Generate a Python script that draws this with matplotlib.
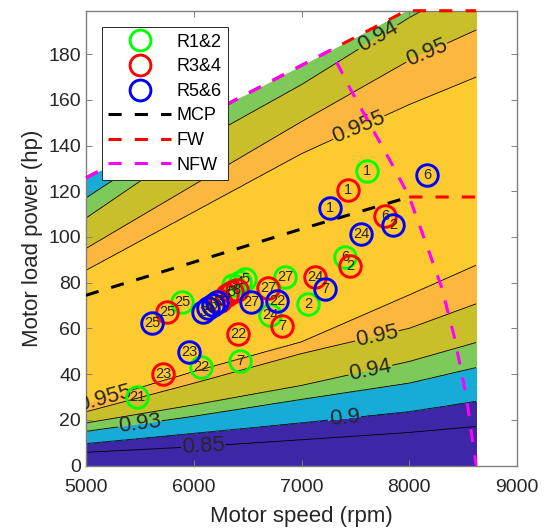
import matplotlib.pyplot as plt
import numpy as np
from matplotlib.lines import Line2D

plt.rcParams['font.family'] = ['Liberation Sans', 'DejaVu Sans']

# Efficiency map: load power (hp) at which each contour level is crossed,
# listed at a few motor speeds (rpm)
map_speed = [5000, 6000, 7000, 8000, 8620]
eff_levels = [0.85, 0.9, 0.93, 0.94, 0.95, 0.955]
# efficiency rising with load
p_085 = [5.8, 8.2, 11.3, 14.5, 17.1]
p_090 = [9.5, 14.0, 18.6, 23.5, 28.0]
p_093 = [14.9, 21.5, 28.9, 36.0, 42.8]
p_094 = [18.6, 26.5, 35.0, 45.5, 53.8]
p_095 = [23.5, 36.0, 49.0, 60.0, 70.7]
p_0955 = [27.0, 41.0, 54.0, 74.6, 87.6]
# efficiency falling again at high load
p_0955_hi = [85.5, 111.0, 136.5, 158.0, 170.0]
p_095_hi = [95.0, 122.8, 150.5, 177.3, 190.6]
p_094_hi = [108.3, 140.5, 166.7, 196.0, 212.0]
p_093_hi = [117.0, 148.0, 178.0, 208.0, 226.0]

# where the contour labels sit
label_pos = [(5180, 29.0), (5500, 18.0), (6090, 8.4), (7400, 20.5),
             (7640, 41.6), (7700, 56.5), (7530, 148.0), (8160, 181.0),
             (7710, 187.5)]

# operating limits
mcp_speed = [5000, 6000, 7000, 7500, 8000]
mcp_power = [74.5, 89.0, 103.5, 110.5, 117.5]
fw_speed = [5000, 7971, 8620, np.nan, 8000, 8620]
fw_power = [125.9, 199.0, 199.0, np.nan, 117.5, 117.5]
nfw_speed = [5000, 7270, 7450, 7650, 7850, 8000, 8150, 8300, 8420, 8530, 8620]
nfw_power = [125.9, 181.7, 165.0, 148.0, 131.0, 117.5, 98.0, 78.0, 56.0, 30.0, 0.0]

# measured operating points
r12_speed = [7608, 7404, 7060, 6847, 6708, 5891, 6067, 6429, 5473, 6367, 6429, 6476]
r12_power = [128.9, 91.4, 70.7, 82.6, 65.9, 71.6, 43.0, 45.6, 30.2, 78.8, 80.3, 81.8]
r12_label = ['1', '6', '2', '27', '24', '25', '22', '7', '21', '3', '4', '5']

r34_speed = [7432, 7775, 7450, 7125, 6689, 6819, 6411, 5715, 5752, 6244, 6306, 6352, 6399]
r34_power = [120.5, 109.1, 87.5, 82.6, 77.8, 61.0, 57.5, 39.9, 67.2, 72.2, 74.4, 75.9, 77.0]
r34_label = ['1', '6', '2', '24', '27', '7', '22', '23', '25', '3', '4', '5', '8']

r56_speed = [8165, 7265, 7849, 7552, 7218, 6773, 6531, 5956, 5613, 6089, 6135, 6181, 6219]
r56_power = [127.1, 112.6, 105.1, 101.1, 77.3, 72.1, 71.6, 49.6, 62.4, 67.1, 68.8, 70.3, 71.5]
r56_label = ['6', '1', '2', '24', '7', '22', '27', '23', '25', '3', '4', '5', '8']

# build the efficiency surface from the level crossings
speed_grid = np.linspace(5000, 8620, 500)
power_grid = np.linspace(0, 199, 500)
low_side = [p_085, p_090, p_093, p_094, p_095, p_0955]
high_side = [p_0955_hi, p_095_hi, p_094_hi, p_093_hi]
eff = np.empty((power_grid.size, speed_grid.size))
for j, s in enumerate(speed_grid):
    lo = [np.interp(s, map_speed, p) for p in low_side]
    hi = [np.interp(s, map_speed, p) for p in high_side]
    knots = [0.0] + lo + [(lo[-1] + hi[0]) / 2] + hi + [400.0]
    vals = [0.80] + eff_levels + [0.96] + eff_levels[::-1][:4] + [0.86]
    eff[:, j] = np.interp(power_grid, knots, vals)

fill_colors = ['#3e27a6', '#3e27a6', '#17acd8', '#7dc95a', '#c9bf2b', '#fcb73e', '#fdca2f']

fig = plt.figure(figsize=(5.46, 5.29), dpi=100)
ax = fig.add_axes([0.1575, 0.12, 0.7894, 0.8597])

ax.contourf(speed_grid, power_grid, eff, levels=[0.7] + eff_levels + [1.0],
            colors=fill_colors, zorder=1)
cs = ax.contour(speed_grid, power_grid, eff, levels=eff_levels,
                colors='k', linewidths=0.6, zorder=1.2)
# blank out everything above the torque limit
ax.fill_between(fw_speed[:2], fw_power[:2], 205, color='white', lw=0, zorder=1.5)
ax.clabel(cs, eff_levels, fmt='%g', fontsize=16, colors='#262626',
          manual=label_pos, inline=True, inline_spacing=3)

dash = (0, (4.3, 4.3))
h_mcp, = ax.plot(mcp_speed, mcp_power, color='k', lw=2.2, ls=dash, zorder=4)
h_fw, = ax.plot(fw_speed, fw_power, color='#ff0000', lw=2.2, ls=dash, zorder=4,
                clip_on=False)
h_nfw, = ax.plot(nfw_speed, nfw_power, color='#ff00ff', lw=2.2, ls=dash, zorder=4)

groups = [(r12_speed, r12_power, r12_label, '#00ff00'),
          (r34_speed, r34_power, r34_label, '#ff0000'),
          (r56_speed, r56_power, r56_label, '#0000ff')]
handles = []
for k, (xs, ys, labels, col) in enumerate(groups):
    z = 5 + k
    ax.plot(xs, ys, 'o', ms=15.5, mfc='none', mec=col, mew=2.1, zorder=z)
    for x, y, t in zip(xs, ys, labels):
        ax.text(x, y, t, fontsize=10.5, color='#262626', ha='center',
                va='center', zorder=z)
    handles.append(Line2D([], [], ls='none', marker='o', ms=15, mfc='none',
                          mec=col, mew=2.1))

leg = ax.legend(handles + [h_mcp, h_fw, h_nfw],
                ['R1&2', 'R3&4', 'R5&6', 'MCP', 'FW', 'NFW'],
                loc='upper left', bbox_to_anchor=(0.0364, 0.9635),
                borderaxespad=0, fontsize=13, handlelength=3.5,
                handletextpad=0.3, labelspacing=0.42, borderpad=0.35,
                numpoints=1, fancybox=False, framealpha=1,
                edgecolor='#262626')
leg.get_frame().set_linewidth(0.7)
leg.set_zorder(10)

ax.set_xlim(5000, 9000)
ax.set_ylim(0, 199)
ax.set_xticks(np.arange(5000, 9001, 1000))
ax.set_yticks(np.arange(0, 181, 20))
ax.tick_params(direction='in', top=True, right=True, length=4, width=0.7,
               color='#7f7f7f', labelcolor='#262626', labelsize=14)
ax.tick_params(axis='x', pad=10)
for sp in ax.spines.values():
    sp.set_color('#7f7f7f')
    sp.set_linewidth(1.0)
ax.set_xlabel('Motor speed (rpm)', fontsize=16, color='#262626', labelpad=7)
ax.set_ylabel('Motor load power (hp)', fontsize=16, color='#262626')

fig.savefig('out.png', dpi=100)
